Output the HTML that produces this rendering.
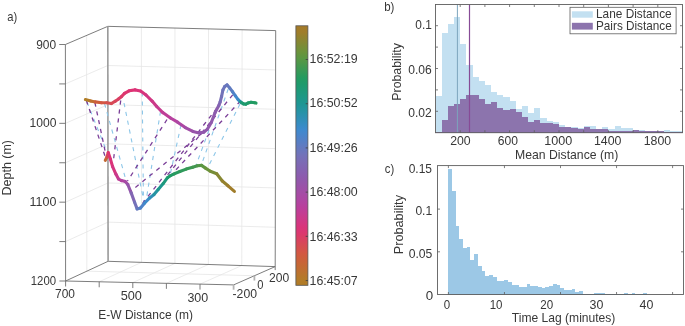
<!DOCTYPE html>
<html><head><meta charset="utf-8"><style>
html,body{margin:0;padding:0;background:#fff;}
svg{display:block;font-family:"Liberation Sans",sans-serif;will-change:transform;}
</style></head><body>
<svg width="685" height="326" viewBox="0 0 685 326">
<rect width="685" height="326" fill="#fff"/>
<g>
<path d="M435.50 132.70V95.60H441.68V132.70ZM441.68 132.70V33.10H447.85V132.70ZM447.85 132.70V23.90H454.03V132.70ZM454.02 132.70V17.10H460.20V132.70ZM460.20 132.70V44.10H466.38V132.70ZM466.38 132.70V64.60H472.55V132.70ZM472.55 132.70V77.20H478.73V132.70ZM478.73 132.70V81.10H484.90V132.70ZM484.90 132.70V85.30H491.07V132.70ZM491.07 132.70V92.20H497.25V132.70ZM497.25 132.70V95.20H503.43V132.70ZM503.43 132.70V96.90H509.60V132.70ZM509.60 132.70V101.30H515.77V132.70ZM515.77 132.70V108.90H521.95V132.70ZM521.95 132.70V105.90H528.12V132.70ZM528.12 132.70V113.30H534.30V132.70ZM534.30 132.70V107.90H540.47V132.70ZM540.48 132.70V117.50H546.65V132.70ZM546.65 132.70V120.90H552.82V132.70ZM552.83 132.70V121.50H559.00V132.70ZM559.00 132.70V125.10H565.17V132.70ZM565.17 132.70V126.90H571.35V132.70ZM571.35 132.70V127.10H577.52V132.70ZM577.52 132.70V128.30H583.70V132.70ZM583.70 132.70V126.30H589.88V132.70ZM589.88 132.70V126.00H596.05V132.70ZM596.05 132.70V128.50H602.22V132.70ZM602.23 132.70V127.00H608.40V132.70ZM608.40 132.70V128.90H614.57V132.70ZM614.58 132.70V126.00H620.75V132.70ZM620.75 132.70V128.20H626.92V132.70ZM626.92 132.70V127.70H633.10V132.70ZM633.10 132.70V130.70H639.27V132.70ZM639.27 132.70V129.60H645.45V132.70ZM645.45 132.70V130.70H651.62V132.70ZM651.62 132.70V131.40H657.80V132.70ZM657.80 132.70V131.40H663.97V132.70ZM663.98 132.70V130.00H670.15V132.70ZM670.15 132.70V131.40H676.32V132.70ZM676.33 132.70V130.70H682.50V132.70Z" fill="#c3e0f1" shape-rendering="crispEdges"/>
<path d="M435.50 132.70V131.70H441.68V132.70ZM441.68 132.70V120.20H447.85V132.70ZM447.85 132.70V106.40H454.03V132.70ZM454.02 132.70V103.70H460.20V132.70ZM460.20 132.70V98.60H466.38V132.70ZM466.38 132.70V94.50H472.55V132.70ZM472.55 132.70V95.00H478.73V132.70ZM478.73 132.70V99.10H484.90V132.70ZM484.90 132.70V103.70H491.07V132.70ZM491.07 132.70V101.80H497.25V132.70ZM497.25 132.70V108.30H503.43V132.70ZM503.43 132.70V109.90H509.60V132.70ZM509.60 132.70V108.50H515.77V132.70ZM515.77 132.70V112.30H521.95V132.70ZM521.95 132.70V117.30H528.12V132.70ZM528.12 132.70V121.90H534.30V132.70ZM534.30 132.70V120.30H540.47V132.70ZM540.48 132.70V122.50H546.65V132.70ZM546.65 132.70V122.90H552.82V132.70ZM552.83 132.70V124.30H559.00V132.70ZM559.00 132.70V126.50H565.17V132.70ZM565.17 132.70V127.30H571.35V132.70ZM571.35 132.70V127.50H577.52V132.70ZM577.52 132.70V128.50H583.70V132.70ZM583.70 132.70V126.50H589.88V132.70ZM589.88 132.70V128.50H596.05V132.70ZM596.05 132.70V128.90H602.22V132.70ZM602.23 132.70V128.50H608.40V132.70ZM608.40 132.70V130.70H614.57V132.70ZM614.58 132.70V130.70H620.75V132.70ZM620.75 132.70V131.40H626.92V132.70ZM626.92 132.70V130.70H633.10V132.70ZM633.10 132.70V130.40H639.27V132.70ZM639.27 132.70V130.70H645.45V132.70ZM645.45 132.70V131.10H651.62V132.70ZM651.62 132.70V131.40H657.80V132.70ZM657.80 132.70V131.40H663.97V132.70ZM663.98 132.70V131.80H670.15V132.70ZM670.15 132.70V131.80H676.32V132.70ZM676.33 132.70V131.80H682.50V132.70Z" fill="#8c74ad" shape-rendering="crispEdges"/>
<line x1="457.40" y1="4.50" x2="457.40" y2="132.70" stroke="#7da5be" stroke-width="1.0"/>
<line x1="469.50" y1="4.50" x2="469.50" y2="132.70" stroke="#874b96" stroke-width="1.2"/>
<rect x="435.5" y="4.5" width="247.0" height="128.2" fill="none" stroke="#5e5e5e" stroke-width="0.9"/>
<line x1="460.20" y1="132.70" x2="460.20" y2="130.20" stroke="#5e5e5e" stroke-width="0.8"/>
<line x1="460.20" y1="4.50" x2="460.20" y2="7.00" stroke="#5e5e5e" stroke-width="0.8"/>
<line x1="484.90" y1="132.70" x2="484.90" y2="130.20" stroke="#5e5e5e" stroke-width="0.8"/>
<line x1="484.90" y1="4.50" x2="484.90" y2="7.00" stroke="#5e5e5e" stroke-width="0.8"/>
<line x1="509.60" y1="132.70" x2="509.60" y2="130.20" stroke="#5e5e5e" stroke-width="0.8"/>
<line x1="509.60" y1="4.50" x2="509.60" y2="7.00" stroke="#5e5e5e" stroke-width="0.8"/>
<line x1="534.30" y1="132.70" x2="534.30" y2="130.20" stroke="#5e5e5e" stroke-width="0.8"/>
<line x1="534.30" y1="4.50" x2="534.30" y2="7.00" stroke="#5e5e5e" stroke-width="0.8"/>
<line x1="559.00" y1="132.70" x2="559.00" y2="130.20" stroke="#5e5e5e" stroke-width="0.8"/>
<line x1="559.00" y1="4.50" x2="559.00" y2="7.00" stroke="#5e5e5e" stroke-width="0.8"/>
<line x1="583.70" y1="132.70" x2="583.70" y2="130.20" stroke="#5e5e5e" stroke-width="0.8"/>
<line x1="583.70" y1="4.50" x2="583.70" y2="7.00" stroke="#5e5e5e" stroke-width="0.8"/>
<line x1="608.40" y1="132.70" x2="608.40" y2="130.20" stroke="#5e5e5e" stroke-width="0.8"/>
<line x1="608.40" y1="4.50" x2="608.40" y2="7.00" stroke="#5e5e5e" stroke-width="0.8"/>
<line x1="633.10" y1="132.70" x2="633.10" y2="130.20" stroke="#5e5e5e" stroke-width="0.8"/>
<line x1="633.10" y1="4.50" x2="633.10" y2="7.00" stroke="#5e5e5e" stroke-width="0.8"/>
<line x1="657.80" y1="132.70" x2="657.80" y2="130.20" stroke="#5e5e5e" stroke-width="0.8"/>
<line x1="657.80" y1="4.50" x2="657.80" y2="7.00" stroke="#5e5e5e" stroke-width="0.8"/>
<line x1="435.50" y1="111.30" x2="438.00" y2="111.30" stroke="#5e5e5e" stroke-width="0.8"/>
<line x1="682.50" y1="111.30" x2="680.00" y2="111.30" stroke="#5e5e5e" stroke-width="0.8"/>
<line x1="435.50" y1="89.90" x2="438.00" y2="89.90" stroke="#5e5e5e" stroke-width="0.8"/>
<line x1="682.50" y1="89.90" x2="680.00" y2="89.90" stroke="#5e5e5e" stroke-width="0.8"/>
<line x1="435.50" y1="68.50" x2="438.00" y2="68.50" stroke="#5e5e5e" stroke-width="0.8"/>
<line x1="682.50" y1="68.50" x2="680.00" y2="68.50" stroke="#5e5e5e" stroke-width="0.8"/>
<line x1="435.50" y1="47.10" x2="438.00" y2="47.10" stroke="#5e5e5e" stroke-width="0.8"/>
<line x1="682.50" y1="47.10" x2="680.00" y2="47.10" stroke="#5e5e5e" stroke-width="0.8"/>
<line x1="435.50" y1="25.70" x2="438.00" y2="25.70" stroke="#5e5e5e" stroke-width="0.8"/>
<line x1="682.50" y1="25.70" x2="680.00" y2="25.70" stroke="#5e5e5e" stroke-width="0.8"/>
</g>
<rect x="570" y="7.3" width="106.1" height="26.5" fill="#fff" stroke="#5e5e5e" stroke-width="0.8"/>
<rect x="571.9" y="11.3" width="20.9" height="6.4" fill="#c3e0f1"/>
<rect x="571.9" y="22.8" width="20.9" height="6.8" fill="#8c74ad"/>
<text x="596.00" y="18.20" font-size="12.9" fill="#383838" textLength="75.70" lengthAdjust="spacingAndGlyphs">Lane Distance</text>
<text x="596.00" y="29.60" font-size="12.9" fill="#383838" textLength="75.70" lengthAdjust="spacingAndGlyphs">Pairs Distance</text>
<text x="384.20" y="10.50" font-size="13.3" fill="#383838" textLength="10.20" lengthAdjust="spacingAndGlyphs">b)</text>
<text x="415.30" y="29.30" font-size="12.9" fill="#383838" textLength="16.50" lengthAdjust="spacingAndGlyphs">0.1</text>
<text x="408.30" y="74.40" font-size="12.9" fill="#383838" textLength="23.50" lengthAdjust="spacingAndGlyphs">0.06</text>
<text x="408.30" y="117.00" font-size="12.9" fill="#383838" textLength="23.50" lengthAdjust="spacingAndGlyphs">0.02</text>
<text x="450.20" y="144.60" font-size="12.9" fill="#383838" textLength="20.50" lengthAdjust="spacingAndGlyphs">200</text>
<text x="497.80" y="144.60" font-size="12.9" fill="#383838" textLength="20.20" lengthAdjust="spacingAndGlyphs">600</text>
<text x="544.20" y="144.60" font-size="12.9" fill="#383838" textLength="28.00" lengthAdjust="spacingAndGlyphs">1000</text>
<text x="594.00" y="144.60" font-size="12.9" fill="#383838" textLength="27.50" lengthAdjust="spacingAndGlyphs">1400</text>
<text x="643.70" y="144.60" font-size="12.9" fill="#383838" textLength="27.50" lengthAdjust="spacingAndGlyphs">1800</text>
<text x="515.00" y="158.60" font-size="13.6" fill="#383838" textLength="103.30" lengthAdjust="spacingAndGlyphs">Mean Distance (m)</text>
<text x="401.10" y="100.70" font-size="13.0" fill="#383838" textLength="57.60" lengthAdjust="spacingAndGlyphs" transform="rotate(-90 401.10 100.70)">Probability</text>
<path d="M448.00 294.50V169.00H451.75V294.50ZM451.75 294.50V190.90H455.50V294.50ZM455.50 294.50V225.90H459.24V294.50ZM459.24 294.50V238.90H462.99V294.50ZM462.99 294.50V247.90H466.74V294.50ZM466.74 294.50V247.00H470.49V294.50ZM470.49 294.50V260.00H474.24V294.50ZM474.24 294.50V254.00H477.98V294.50ZM477.98 294.50V266.20H481.73V294.50ZM481.73 294.50V271.40H485.48V294.50ZM485.48 294.50V276.20H489.23V294.50ZM489.23 294.50V275.00H492.98V294.50ZM492.98 294.50V277.40H496.72V294.50ZM496.72 294.50V281.00H500.47V294.50ZM500.47 294.50V281.00H504.22V294.50ZM504.22 294.50V279.80H507.97V294.50ZM507.97 294.50V282.40H511.72V294.50ZM511.72 294.50V284.70H515.46V294.50ZM515.46 294.50V285.10H519.21V294.50ZM519.21 294.50V287.00H522.96V294.50ZM522.96 294.50V287.00H526.71V294.50ZM526.71 294.50V284.20H530.46V294.50ZM530.46 294.50V285.90H534.20V294.50ZM534.20 294.50V286.20H537.95V294.50ZM537.95 294.50V287.20H541.70V294.50ZM541.70 294.50V287.60H545.45V294.50ZM545.45 294.50V287.20H549.20V294.50ZM549.20 294.50V285.80H552.94V294.50ZM552.94 294.50V284.10H556.69V294.50ZM556.69 294.50V284.90H560.44V294.50ZM560.44 294.50V287.90H564.19V294.50ZM564.19 294.50V290.20H567.94V294.50ZM567.94 294.50V289.70H571.68V294.50ZM571.68 294.50V289.00H575.43V294.50ZM575.43 294.50V292.20H579.18V294.50ZM579.18 294.50V291.00H582.93V294.50ZM582.93 294.50V293.60H586.68V294.50ZM586.68 294.50V294.20H590.42V294.50ZM590.42 294.50V294.20H594.17V294.50ZM594.17 294.50V292.90H597.92V294.50ZM597.92 294.50V293.10H601.67V294.50ZM601.67 294.50V292.90H605.42V294.50ZM605.42 294.50V294.20H609.16V294.50ZM609.16 294.50V294.20H612.91V294.50ZM612.91 294.50V294.20H616.66V294.50ZM616.66 294.50V294.20H620.41V294.50ZM620.41 294.50V294.20H624.16V294.50ZM624.16 294.50V292.90H627.90V294.50ZM627.90 294.50V294.20H631.65V294.50ZM631.65 294.50V293.30H635.40V294.50ZM635.40 294.50V294.20H639.15V294.50ZM639.15 294.50V294.20H642.90V294.50ZM642.90 294.50V293.30H646.64V294.50Z" fill="#9cc8e6" shape-rendering="crispEdges"/>
<rect x="437.5" y="165.6" width="246.0" height="128.9" fill="none" stroke="#5e5e5e" stroke-width="0.9"/>
<line x1="448.40" y1="294.50" x2="448.40" y2="292.00" stroke="#5e5e5e" stroke-width="0.8"/>
<line x1="448.40" y1="165.60" x2="448.40" y2="168.10" stroke="#5e5e5e" stroke-width="0.8"/>
<line x1="504.45" y1="294.50" x2="504.45" y2="292.00" stroke="#5e5e5e" stroke-width="0.8"/>
<line x1="504.45" y1="165.60" x2="504.45" y2="168.10" stroke="#5e5e5e" stroke-width="0.8"/>
<line x1="560.50" y1="294.50" x2="560.50" y2="292.00" stroke="#5e5e5e" stroke-width="0.8"/>
<line x1="560.50" y1="165.60" x2="560.50" y2="168.10" stroke="#5e5e5e" stroke-width="0.8"/>
<line x1="616.55" y1="294.50" x2="616.55" y2="292.00" stroke="#5e5e5e" stroke-width="0.8"/>
<line x1="616.55" y1="165.60" x2="616.55" y2="168.10" stroke="#5e5e5e" stroke-width="0.8"/>
<line x1="672.60" y1="294.50" x2="672.60" y2="292.00" stroke="#5e5e5e" stroke-width="0.8"/>
<line x1="672.60" y1="165.60" x2="672.60" y2="168.10" stroke="#5e5e5e" stroke-width="0.8"/>
<line x1="437.50" y1="251.80" x2="440.00" y2="251.80" stroke="#5e5e5e" stroke-width="0.8"/>
<line x1="683.50" y1="251.80" x2="681.00" y2="251.80" stroke="#5e5e5e" stroke-width="0.8"/>
<line x1="437.50" y1="209.10" x2="440.00" y2="209.10" stroke="#5e5e5e" stroke-width="0.8"/>
<line x1="683.50" y1="209.10" x2="681.00" y2="209.10" stroke="#5e5e5e" stroke-width="0.8"/>
<text x="384.80" y="172.80" font-size="13.6" fill="#383838" textLength="9.40" lengthAdjust="spacingAndGlyphs">c)</text>
<text x="408.70" y="172.60" font-size="12.9" fill="#383838" textLength="23.30" lengthAdjust="spacingAndGlyphs">0.15</text>
<text x="415.40" y="214.60" font-size="12.9" fill="#383838" textLength="16.80" lengthAdjust="spacingAndGlyphs">0.1</text>
<text x="408.70" y="258.10" font-size="12.9" fill="#383838" textLength="23.70" lengthAdjust="spacingAndGlyphs">0.05</text>
<text x="425.70" y="299.60" font-size="12.9" fill="#383838" textLength="7.40" lengthAdjust="spacingAndGlyphs">0</text>
<text x="443.80" y="308.50" font-size="12.9" fill="#383838" textLength="6.40" lengthAdjust="spacingAndGlyphs">0</text>
<text x="489.70" y="308.50" font-size="12.9" fill="#383838" textLength="12.80" lengthAdjust="spacingAndGlyphs">10</text>
<text x="540.20" y="308.50" font-size="12.9" fill="#383838" textLength="12.90" lengthAdjust="spacingAndGlyphs">20</text>
<text x="589.60" y="308.50" font-size="12.9" fill="#383838" textLength="13.80" lengthAdjust="spacingAndGlyphs">30</text>
<text x="639.60" y="308.50" font-size="12.9" fill="#383838" textLength="13.80" lengthAdjust="spacingAndGlyphs">40</text>
<text x="511.80" y="321.70" font-size="13.6" fill="#383838" textLength="103.60" lengthAdjust="spacingAndGlyphs">Time Lag (minutes)</text>
<text x="403.30" y="254.30" font-size="13.0" fill="#383838" textLength="59.30" lengthAdjust="spacingAndGlyphs" transform="rotate(-90 403.30 254.30)">Probability</text>
<line x1="141.38" y1="27.20" x2="141.52" y2="262.36" stroke="#e6e6e6" stroke-width="0.8"/>
<line x1="174.96" y1="28.05" x2="174.94" y2="263.42" stroke="#e6e6e6" stroke-width="0.8"/>
<line x1="208.54" y1="28.90" x2="208.36" y2="264.48" stroke="#e6e6e6" stroke-width="0.8"/>
<line x1="242.12" y1="29.75" x2="241.78" y2="265.54" stroke="#e6e6e6" stroke-width="0.8"/>
<line x1="107.85" y1="65.51" x2="275.62" y2="69.93" stroke="#e6e6e6" stroke-width="0.8"/>
<line x1="107.90" y1="104.67" x2="275.53" y2="109.27" stroke="#e6e6e6" stroke-width="0.8"/>
<line x1="107.95" y1="143.83" x2="275.45" y2="148.60" stroke="#e6e6e6" stroke-width="0.8"/>
<line x1="108.00" y1="182.98" x2="275.37" y2="187.93" stroke="#e6e6e6" stroke-width="0.8"/>
<line x1="108.05" y1="222.14" x2="275.28" y2="227.27" stroke="#e6e6e6" stroke-width="0.8"/>
<line x1="86.60" y1="35.42" x2="86.85" y2="271.15" stroke="#e6e6e6" stroke-width="0.8"/>
<line x1="65.43" y1="83.92" x2="107.85" y2="65.51" stroke="#e6e6e6" stroke-width="0.8"/>
<line x1="65.47" y1="123.33" x2="107.90" y2="104.67" stroke="#e6e6e6" stroke-width="0.8"/>
<line x1="65.50" y1="162.75" x2="107.95" y2="143.83" stroke="#e6e6e6" stroke-width="0.8"/>
<line x1="65.53" y1="202.17" x2="108.00" y2="182.98" stroke="#e6e6e6" stroke-width="0.8"/>
<line x1="65.57" y1="241.58" x2="108.05" y2="222.14" stroke="#e6e6e6" stroke-width="0.8"/>
<line x1="99.20" y1="281.78" x2="141.52" y2="262.36" stroke="#e6e6e6" stroke-width="0.8"/>
<line x1="132.80" y1="282.56" x2="174.94" y2="263.42" stroke="#e6e6e6" stroke-width="0.8"/>
<line x1="166.40" y1="283.34" x2="208.36" y2="264.48" stroke="#e6e6e6" stroke-width="0.8"/>
<line x1="200.00" y1="284.12" x2="241.78" y2="265.54" stroke="#e6e6e6" stroke-width="0.8"/>
<line x1="86.85" y1="271.15" x2="254.40" y2="275.75" stroke="#e6e6e6" stroke-width="0.8"/>
<line x1="65.40" y1="44.50" x2="107.80" y2="26.35" stroke="#6e6e6e" stroke-width="0.9"/>
<line x1="107.80" y1="26.35" x2="275.70" y2="30.60" stroke="#6e6e6e" stroke-width="0.9"/>
<line x1="275.70" y1="30.60" x2="275.20" y2="266.60" stroke="#6e6e6e" stroke-width="0.9"/>
<line x1="65.40" y1="44.50" x2="65.60" y2="281.00" stroke="#6e6e6e" stroke-width="0.9"/>
<line x1="65.60" y1="281.00" x2="233.60" y2="284.90" stroke="#6e6e6e" stroke-width="0.9"/>
<line x1="233.60" y1="284.90" x2="275.20" y2="266.60" stroke="#6e6e6e" stroke-width="0.9"/>
<line x1="108.10" y1="261.30" x2="275.20" y2="266.60" stroke="#6e6e6e" stroke-width="0.9"/>
<line x1="65.60" y1="281.00" x2="108.10" y2="261.30" stroke="#6e6e6e" stroke-width="0.9"/>
<line x1="107.80" y1="26.35" x2="108.10" y2="261.30" stroke="#9a9a9a" stroke-width="1.6"/>
<line x1="59.20" y1="44.50" x2="65.40" y2="44.50" stroke="#6e6e6e" stroke-width="0.9"/>
<line x1="59.23" y1="83.92" x2="65.43" y2="83.92" stroke="#6e6e6e" stroke-width="0.9"/>
<line x1="59.27" y1="123.33" x2="65.47" y2="123.33" stroke="#6e6e6e" stroke-width="0.9"/>
<line x1="59.30" y1="162.75" x2="65.50" y2="162.75" stroke="#6e6e6e" stroke-width="0.9"/>
<line x1="59.33" y1="202.17" x2="65.53" y2="202.17" stroke="#6e6e6e" stroke-width="0.9"/>
<line x1="59.37" y1="241.58" x2="65.57" y2="241.58" stroke="#6e6e6e" stroke-width="0.9"/>
<line x1="59.40" y1="281.00" x2="65.60" y2="281.00" stroke="#6e6e6e" stroke-width="0.9"/>
<line x1="65.60" y1="281.00" x2="65.60" y2="286.50" stroke="#6e6e6e" stroke-width="0.9"/>
<line x1="99.20" y1="281.78" x2="99.20" y2="287.28" stroke="#6e6e6e" stroke-width="0.9"/>
<line x1="132.80" y1="282.56" x2="132.80" y2="288.06" stroke="#6e6e6e" stroke-width="0.9"/>
<line x1="166.40" y1="283.34" x2="166.40" y2="288.84" stroke="#6e6e6e" stroke-width="0.9"/>
<line x1="200.00" y1="284.12" x2="200.00" y2="289.62" stroke="#6e6e6e" stroke-width="0.9"/>
<line x1="233.60" y1="284.90" x2="233.60" y2="289.70" stroke="#b4b4b4" stroke-width="1.8"/>
<line x1="254.40" y1="275.75" x2="254.40" y2="280.55" stroke="#b4b4b4" stroke-width="1.8"/>
<line x1="275.20" y1="266.60" x2="275.20" y2="270.10" stroke="#6e6e6e" stroke-width="0.9"/>
<text x="7.30" y="21.20" font-size="13.5" fill="#383838" textLength="10.00" lengthAdjust="spacingAndGlyphs">a)</text>
<text x="36.20" y="49.00" font-size="12.9" fill="#383838" textLength="19.90" lengthAdjust="spacingAndGlyphs">900</text>
<text x="29.50" y="127.20" font-size="12.9" fill="#383838" textLength="26.90" lengthAdjust="spacingAndGlyphs">1000</text>
<text x="29.50" y="206.00" font-size="12.9" fill="#383838" textLength="26.90" lengthAdjust="spacingAndGlyphs">1100</text>
<text x="30.80" y="284.60" font-size="12.9" fill="#383838" textLength="25.30" lengthAdjust="spacingAndGlyphs">1200</text>
<text x="55.00" y="298.30" font-size="12.9" fill="#383838" textLength="19.90" lengthAdjust="spacingAndGlyphs">700</text>
<text x="120.70" y="299.80" font-size="12.9" fill="#383838" textLength="21.20" lengthAdjust="spacingAndGlyphs">500</text>
<text x="187.40" y="301.50" font-size="12.9" fill="#383838" textLength="20.80" lengthAdjust="spacingAndGlyphs">300</text>
<text x="232.50" y="298.30" font-size="12.9" fill="#383838" textLength="24.50" lengthAdjust="spacingAndGlyphs">-200</text>
<text x="257.20" y="289.30" font-size="12.9" fill="#383838" textLength="6.20" lengthAdjust="spacingAndGlyphs">0</text>
<text x="269.00" y="282.00" font-size="12.9" fill="#383838" textLength="20.20" lengthAdjust="spacingAndGlyphs">200</text>
<text x="98.30" y="318.70" font-size="13.6" fill="#383838" textLength="94.60" lengthAdjust="spacingAndGlyphs">E-W Distance (m)</text>
<text x="10.90" y="195.40" font-size="13.0" fill="#383838" textLength="55.40" lengthAdjust="spacingAndGlyphs" transform="rotate(-90 10.90 195.40)">Depth (m)</text>
<defs><linearGradient id="cb" x1="0" y1="0" x2="0" y2="1"><stop offset="0.000" stop-color="#a57a28"/><stop offset="0.025" stop-color="#9f7d2a"/><stop offset="0.050" stop-color="#8e8430"/><stop offset="0.075" stop-color="#7d8b36"/><stop offset="0.100" stop-color="#6c933b"/><stop offset="0.125" stop-color="#5b9743"/><stop offset="0.150" stop-color="#49984d"/><stop offset="0.175" stop-color="#379957"/><stop offset="0.200" stop-color="#249b60"/><stop offset="0.225" stop-color="#1e9a6c"/><stop offset="0.250" stop-color="#1e9979"/><stop offset="0.275" stop-color="#1e9886"/><stop offset="0.300" stop-color="#1e9693"/><stop offset="0.325" stop-color="#2594a2"/><stop offset="0.350" stop-color="#2d90b1"/><stop offset="0.375" stop-color="#358dc0"/><stop offset="0.400" stop-color="#3e8ace"/><stop offset="0.425" stop-color="#4b84ca"/><stop offset="0.450" stop-color="#597ec4"/><stop offset="0.475" stop-color="#6778be"/><stop offset="0.500" stop-color="#7472b9"/><stop offset="0.525" stop-color="#7c6bb5"/><stop offset="0.550" stop-color="#8364b2"/><stop offset="0.575" stop-color="#8b5daf"/><stop offset="0.600" stop-color="#9357ab"/><stop offset="0.625" stop-color="#9d51a8"/><stop offset="0.650" stop-color="#a74ba5"/><stop offset="0.675" stop-color="#b045a2"/><stop offset="0.700" stop-color="#ba3f9c"/><stop offset="0.725" stop-color="#c53c91"/><stop offset="0.750" stop-color="#cf3886"/><stop offset="0.775" stop-color="#d9347b"/><stop offset="0.800" stop-color="#dc386e"/><stop offset="0.825" stop-color="#d9425f"/><stop offset="0.850" stop-color="#d64c51"/><stop offset="0.875" stop-color="#d35743"/><stop offset="0.900" stop-color="#cc603a"/><stop offset="0.925" stop-color="#c46934"/><stop offset="0.950" stop-color="#bc722f"/><stop offset="0.975" stop-color="#b47b29"/><stop offset="1.000" stop-color="#b07c26"/></linearGradient></defs>
<rect x="295.9" y="25.8" width="12.0" height="259.5" fill="url(#cb)" stroke="#555" stroke-width="0.8"/>
<line x1="307.90" y1="59.50" x2="305.70" y2="59.50" stroke="#444" stroke-width="0.9"/>
<text x="309.50" y="62.90" font-size="12.9" fill="#383838" textLength="48.20" lengthAdjust="spacingAndGlyphs">16:52:19</text>
<line x1="307.90" y1="103.71" x2="305.70" y2="103.71" stroke="#444" stroke-width="0.9"/>
<text x="309.50" y="107.30" font-size="12.9" fill="#383838" textLength="48.20" lengthAdjust="spacingAndGlyphs">16:50:52</text>
<line x1="307.90" y1="147.92" x2="305.70" y2="147.92" stroke="#444" stroke-width="0.9"/>
<text x="309.50" y="151.70" font-size="12.9" fill="#383838" textLength="48.20" lengthAdjust="spacingAndGlyphs">16:49:26</text>
<line x1="307.90" y1="192.13" x2="305.70" y2="192.13" stroke="#444" stroke-width="0.9"/>
<text x="309.50" y="196.10" font-size="12.9" fill="#383838" textLength="48.20" lengthAdjust="spacingAndGlyphs">16:48:00</text>
<line x1="307.90" y1="236.34" x2="305.70" y2="236.34" stroke="#444" stroke-width="0.9"/>
<text x="309.50" y="240.50" font-size="12.9" fill="#383838" textLength="48.20" lengthAdjust="spacingAndGlyphs">16:46:33</text>
<line x1="307.90" y1="280.55" x2="305.70" y2="280.55" stroke="#444" stroke-width="0.9"/>
<text x="309.50" y="284.90" font-size="12.9" fill="#383838" textLength="48.20" lengthAdjust="spacingAndGlyphs">16:45:07</text>
<line x1="86.9" y1="102" x2="107" y2="152" stroke="#8cc6e8" stroke-width="1.1" stroke-dasharray="4.2 4.8"/>
<line x1="104.5" y1="103.5" x2="125.8" y2="179.6" stroke="#8cc6e8" stroke-width="1.1" stroke-dasharray="4.2 4.8"/>
<line x1="124" y1="103" x2="144" y2="202" stroke="#8cc6e8" stroke-width="1.1" stroke-dasharray="4.2 4.8"/>
<line x1="142.2" y1="92.4" x2="143.5" y2="204" stroke="#8cc6e8" stroke-width="1.1" stroke-dasharray="4.2 4.8"/>
<line x1="160.5" y1="111.5" x2="146" y2="201" stroke="#8cc6e8" stroke-width="1.1" stroke-dasharray="4.2 4.8"/>
<line x1="181" y1="125" x2="170" y2="175.5" stroke="#8cc6e8" stroke-width="1.1" stroke-dasharray="4.2 4.8"/>
<line x1="228.2" y1="89" x2="201" y2="166" stroke="#8cc6e8" stroke-width="1.1" stroke-dasharray="4.2 4.8"/>
<line x1="240" y1="104" x2="207" y2="169" stroke="#8cc6e8" stroke-width="1.1" stroke-dasharray="4.2 4.8"/>
<line x1="209" y1="130" x2="196" y2="165.5" stroke="#8cc6e8" stroke-width="1.1" stroke-dasharray="4.2 4.8"/>
<line x1="86.4" y1="100.5" x2="105.5" y2="157.5" stroke="#7a3e98" stroke-width="1.3" stroke-dasharray="4.2 4.8"/>
<line x1="94.9" y1="102.5" x2="105.5" y2="153" stroke="#7a3e98" stroke-width="1.3" stroke-dasharray="4.2 4.8"/>
<line x1="120.7" y1="100.5" x2="113.5" y2="160" stroke="#7a3e98" stroke-width="1.3" stroke-dasharray="4.2 4.8"/>
<line x1="167" y1="119.5" x2="127.5" y2="181" stroke="#7a3e98" stroke-width="1.3" stroke-dasharray="4.2 4.8"/>
<line x1="208.5" y1="128" x2="131" y2="191" stroke="#7a3e98" stroke-width="1.3" stroke-dasharray="4.2 4.8"/>
<line x1="232.7" y1="94.8" x2="165" y2="178" stroke="#7a3e98" stroke-width="1.3" stroke-dasharray="4.2 4.8"/>
<line x1="217" y1="108" x2="139" y2="208" stroke="#7a3e98" stroke-width="1.3" stroke-dasharray="4.2 4.8"/>
<line x1="240.5" y1="101" x2="172" y2="174" stroke="#7a3e98" stroke-width="1.3" stroke-dasharray="4.2 4.8"/>
<line x1="85.4" y1="99.6" x2="90.7" y2="101.0" stroke="#b17d27" stroke-width="3.1" stroke-linecap="round"/>
<line x1="90.7" y1="101.0" x2="95.3" y2="101.9" stroke="#bf6f31" stroke-width="3.1" stroke-linecap="round"/>
<line x1="95.3" y1="101.9" x2="101.5" y2="102.7" stroke="#ce5e3b" stroke-width="3.1" stroke-linecap="round"/>
<line x1="101.5" y1="102.7" x2="106.8" y2="102.8" stroke="#d35743" stroke-width="3.1" stroke-linecap="round"/>
<line x1="106.8" y1="102.8" x2="111.4" y2="103.5" stroke="#d54f4d" stroke-width="3.1" stroke-linecap="round"/>
<line x1="111.4" y1="103.5" x2="115.3" y2="101.2" stroke="#d74955" stroke-width="3.1" stroke-linecap="round"/>
<line x1="115.3" y1="101.2" x2="118.5" y2="99.0" stroke="#d9445d" stroke-width="3.1" stroke-linecap="round"/>
<line x1="118.5" y1="99.0" x2="121.6" y2="96.5" stroke="#da3e65" stroke-width="3.1" stroke-linecap="round"/>
<line x1="121.6" y1="96.5" x2="124.5" y2="93.4" stroke="#dc3a6b" stroke-width="3.1" stroke-linecap="round"/>
<line x1="124.5" y1="93.4" x2="129.1" y2="90.8" stroke="#dd3670" stroke-width="3.1" stroke-linecap="round"/>
<line x1="129.1" y1="90.8" x2="135.2" y2="89.9" stroke="#de3374" stroke-width="3.1" stroke-linecap="round"/>
<line x1="135.2" y1="89.9" x2="140.6" y2="91.1" stroke="#dc3378" stroke-width="3.1" stroke-linecap="round"/>
<line x1="140.6" y1="91.1" x2="146" y2="95" stroke="#d8347c" stroke-width="3.1" stroke-linecap="round"/>
<line x1="146" y1="95" x2="152.1" y2="101.1" stroke="#d23682" stroke-width="3.1" stroke-linecap="round"/>
<line x1="152.1" y1="101.1" x2="156.7" y2="106.5" stroke="#cc3988" stroke-width="3.1" stroke-linecap="round"/>
<line x1="156.7" y1="106.5" x2="162.8" y2="112.6" stroke="#c63b8f" stroke-width="3.1" stroke-linecap="round"/>
<line x1="162.8" y1="112.6" x2="170.5" y2="118" stroke="#be3e97" stroke-width="3.1" stroke-linecap="round"/>
<line x1="170.5" y1="118" x2="177.6" y2="122.2" stroke="#b641a0" stroke-width="3.1" stroke-linecap="round"/>
<line x1="177.6" y1="122.2" x2="185.3" y2="127.6" stroke="#ac47a3" stroke-width="3.1" stroke-linecap="round"/>
<line x1="185.3" y1="127.6" x2="192.9" y2="131.4" stroke="#a14ea7" stroke-width="3.1" stroke-linecap="round"/>
<line x1="192.9" y1="131.4" x2="199.1" y2="132.9" stroke="#9754aa" stroke-width="3.1" stroke-linecap="round"/>
<line x1="199.1" y1="132.9" x2="203.7" y2="132.2" stroke="#9257ac" stroke-width="3.1" stroke-linecap="round"/>
<line x1="203.7" y1="132.2" x2="207.5" y2="129.1" stroke="#9158ac" stroke-width="3.1" stroke-linecap="round"/>
<line x1="207.5" y1="129.1" x2="211.3" y2="122.5" stroke="#9158ac" stroke-width="3.1" stroke-linecap="round"/>
<line x1="211.3" y1="122.5" x2="215" y2="112.7" stroke="#8f5aad" stroke-width="3.1" stroke-linecap="round"/>
<line x1="215" y1="112.7" x2="218.8" y2="105.6" stroke="#8c5dae" stroke-width="3.1" stroke-linecap="round"/>
<line x1="218.8" y1="105.6" x2="220.2" y2="101.9" stroke="#8364b2" stroke-width="3.1" stroke-linecap="round"/>
<line x1="220.2" y1="101.9" x2="221.6" y2="96.4" stroke="#796eb7" stroke-width="3.1" stroke-linecap="round"/>
<line x1="221.6" y1="96.4" x2="222.9" y2="90.0" stroke="#7273b9" stroke-width="3.1" stroke-linecap="round"/>
<line x1="222.9" y1="90.0" x2="224.6" y2="86.6" stroke="#6e75bb" stroke-width="3.1" stroke-linecap="round"/>
<line x1="224.6" y1="86.6" x2="227.1" y2="84.9" stroke="#6b76bc" stroke-width="3.1" stroke-linecap="round"/>
<line x1="227.1" y1="84.9" x2="229.8" y2="88.1" stroke="#6778be" stroke-width="3.1" stroke-linecap="round"/>
<line x1="229.8" y1="88.1" x2="232.6" y2="91.8" stroke="#5f7cc1" stroke-width="3.1" stroke-linecap="round"/>
<line x1="232.6" y1="91.8" x2="235.4" y2="95.9" stroke="#5182c7" stroke-width="3.1" stroke-linecap="round"/>
<line x1="235.4" y1="95.9" x2="238.1" y2="99.6" stroke="#4388cd" stroke-width="3.1" stroke-linecap="round"/>
<line x1="238.1" y1="99.6" x2="240.3" y2="101.7" stroke="#378dc3" stroke-width="3.1" stroke-linecap="round"/>
<line x1="240.3" y1="101.7" x2="241.5" y2="102.7" stroke="#1e9696" stroke-width="3.1" stroke-linecap="round"/>
<line x1="241.5" y1="102.7" x2="243.5" y2="103.9" stroke="#1e9974" stroke-width="3.1" stroke-linecap="round"/>
<line x1="243.5" y1="103.9" x2="245.8" y2="104.2" stroke="#1e9a6e" stroke-width="3.1" stroke-linecap="round"/>
<line x1="245.8" y1="104.2" x2="248.2" y2="102.9" stroke="#1e9a6b" stroke-width="3.1" stroke-linecap="round"/>
<line x1="248.2" y1="102.9" x2="251" y2="102.3" stroke="#1e9b67" stroke-width="3.1" stroke-linecap="round"/>
<line x1="251" y1="102.3" x2="254.7" y2="102.8" stroke="#1f9b63" stroke-width="3.1" stroke-linecap="round"/>
<line x1="254.7" y1="102.8" x2="256" y2="103.1" stroke="#239b61" stroke-width="3.1" stroke-linecap="round"/>
<line x1="105.3" y1="160.3" x2="107.0" y2="157.0" stroke="#c46934" stroke-width="3.1" stroke-linecap="round"/>
<line x1="107.0" y1="157.0" x2="108.2" y2="152.6" stroke="#d64c51" stroke-width="3.1" stroke-linecap="round"/>
<line x1="108.2" y1="152.6" x2="110.5" y2="159.3" stroke="#dd3572" stroke-width="3.1" stroke-linecap="round"/>
<line x1="110.5" y1="159.3" x2="112.6" y2="166.7" stroke="#dc3379" stroke-width="3.1" stroke-linecap="round"/>
<line x1="112.6" y1="166.7" x2="116" y2="174.3" stroke="#d43680" stroke-width="3.1" stroke-linecap="round"/>
<line x1="116" y1="174.3" x2="118.5" y2="179.0" stroke="#c93a8c" stroke-width="3.1" stroke-linecap="round"/>
<line x1="118.5" y1="179.0" x2="121.5" y2="180.6" stroke="#bc3f99" stroke-width="3.1" stroke-linecap="round"/>
<line x1="121.5" y1="180.6" x2="125.3" y2="181.6" stroke="#b045a2" stroke-width="3.1" stroke-linecap="round"/>
<line x1="125.3" y1="181.6" x2="127.8" y2="184.5" stroke="#a54ca6" stroke-width="3.1" stroke-linecap="round"/>
<line x1="127.8" y1="184.5" x2="131.2" y2="192.9" stroke="#9357ab" stroke-width="3.1" stroke-linecap="round"/>
<line x1="131.2" y1="192.9" x2="134.6" y2="202.2" stroke="#8266b3" stroke-width="3.1" stroke-linecap="round"/>
<line x1="134.6" y1="202.2" x2="137.1" y2="208.9" stroke="#7472b9" stroke-width="3.1" stroke-linecap="round"/>
<line x1="137.1" y1="208.9" x2="140.5" y2="208.1" stroke="#617bc0" stroke-width="3.1" stroke-linecap="round"/>
<line x1="140.5" y1="208.1" x2="144.7" y2="203" stroke="#4e83c8" stroke-width="3.1" stroke-linecap="round"/>
<line x1="144.7" y1="203" x2="149.7" y2="197.9" stroke="#3c8bcb" stroke-width="3.1" stroke-linecap="round"/>
<line x1="149.7" y1="197.9" x2="154" y2="194.6" stroke="#308fb7" stroke-width="3.1" stroke-linecap="round"/>
<line x1="154" y1="194.6" x2="158.2" y2="189.5" stroke="#2594a2" stroke-width="3.1" stroke-linecap="round"/>
<line x1="158.2" y1="189.5" x2="163.2" y2="183.6" stroke="#1e978e" stroke-width="3.1" stroke-linecap="round"/>
<line x1="163.2" y1="183.6" x2="167.5" y2="177.7" stroke="#1e997b" stroke-width="3.1" stroke-linecap="round"/>
<line x1="167.5" y1="177.7" x2="170.5" y2="175.6" stroke="#1e9a6c" stroke-width="3.1" stroke-linecap="round"/>
<line x1="170.5" y1="175.6" x2="174.2" y2="173.9" stroke="#1f9b63" stroke-width="3.1" stroke-linecap="round"/>
<line x1="174.2" y1="173.9" x2="179.8" y2="171.5" stroke="#289a5f" stroke-width="3.1" stroke-linecap="round"/>
<line x1="179.8" y1="171.5" x2="186.2" y2="169.1" stroke="#2f9a5b" stroke-width="3.1" stroke-linecap="round"/>
<line x1="186.2" y1="169.1" x2="192.6" y2="167.3" stroke="#389956" stroke-width="3.1" stroke-linecap="round"/>
<line x1="192.6" y1="167.3" x2="197.4" y2="165.8" stroke="#439850" stroke-width="3.1" stroke-linecap="round"/>
<line x1="197.4" y1="165.8" x2="201.5" y2="165.4" stroke="#509749" stroke-width="3.1" stroke-linecap="round"/>
<line x1="201.5" y1="165.4" x2="205.5" y2="168.1" stroke="#5c9742" stroke-width="3.1" stroke-linecap="round"/>
<line x1="205.5" y1="168.1" x2="210.3" y2="171.3" stroke="#69943c" stroke-width="3.1" stroke-linecap="round"/>
<line x1="210.3" y1="171.3" x2="216.7" y2="173.7" stroke="#768e38" stroke-width="3.1" stroke-linecap="round"/>
<line x1="216.7" y1="173.7" x2="222.3" y2="181" stroke="#868833" stroke-width="3.1" stroke-linecap="round"/>
<line x1="222.3" y1="181" x2="228" y2="185.8" stroke="#95822e" stroke-width="3.1" stroke-linecap="round"/>
<line x1="228" y1="185.8" x2="234.4" y2="191.4" stroke="#a07d2a" stroke-width="3.1" stroke-linecap="round"/>
</svg></body></html>
